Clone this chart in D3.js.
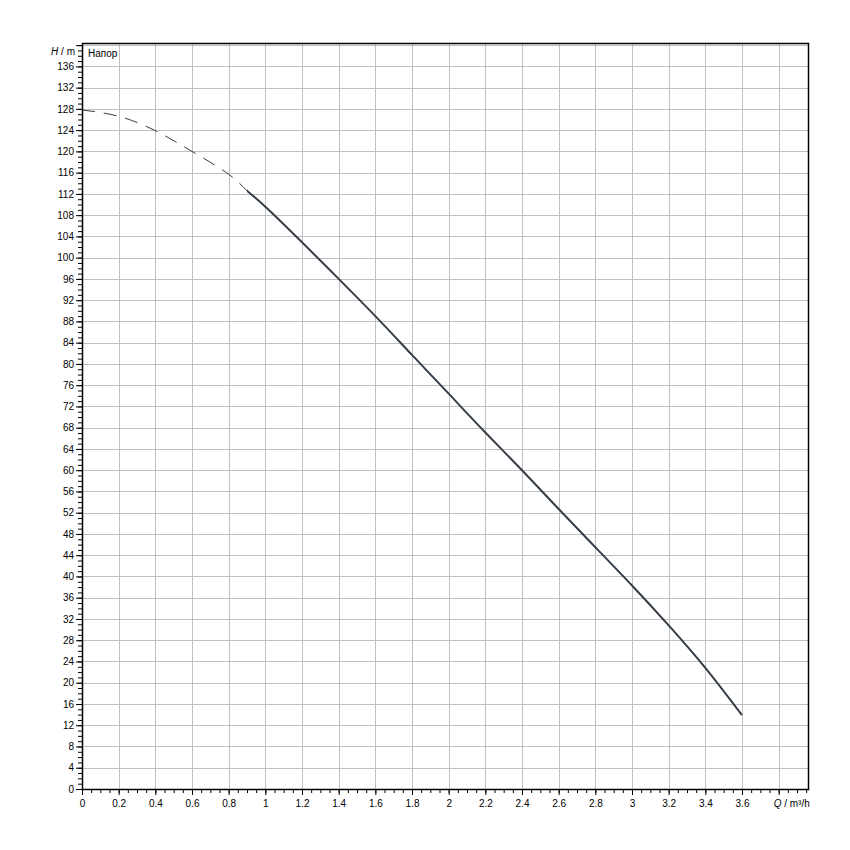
<!DOCTYPE html>
<html>
<head>
<meta charset="utf-8">
<script src="https://cdn.jsdelivr.net/npm/d3@7"></script>
<style>
  body { margin: 0; background: #fff; }
  svg { display: block; font-family: "Liberation Sans", Arial, sans-serif; }
  .tick text { font-size: 10px; fill: #000; }
</style>
</head>
<body>
<div id="chart"></div>
<script>
// Pump head curve, H over Q.
var qValues = [0, 0.2, 0.4, 0.6, 0.8, 0.9, 1.0, 1.2, 1.4, 1.6, 1.8, 2.0, 2.2, 2.4, 2.6, 2.8, 3.0, 3.2, 3.4, 3.6];
var hValues = [127.8, 126.6, 123.9, 120.0, 115.7, 112.6, 109.6, 102.9, 96.0, 89.0, 81.7, 74.4, 67.1, 60.0, 52.7, 45.5, 38.3, 30.8, 22.8, 13.9];
var solidFrom = 0.9; // below this the curve is drawn dashed

var xTicks = d3.range(0, 3.81, 0.2).map(v => +v.toFixed(1));
var yTicks = d3.range(0, 141, 4);
var xMax = 3.96, yMax = 140.4;
var xUnitLabel = "m³/h", yUnitLabel = "m", curveName = "Напор";

var W = 850, H = 850;
var mLeft = 82, mRight = 808, mTop = 43, mBottom = 789;

var svg = d3.select('#chart').append('svg')
    .attr('width', W)
    .attr('height', H);

svg.append('rect').attr('width', W).attr('height', H).attr('fill', '#fff');

var x = d3.scaleLinear().domain([0, xMax]).range([mLeft, mRight]);
var y = d3.scaleLinear().domain([0, yMax]).range([mBottom, mTop]);

// Grid
var grid = svg.append('g').attr('stroke', '#c0c0c0').attr('stroke-width', 1);
grid.selectAll('.gx').data(xTicks.filter(d => d > 0)).enter()
    .append('line')
    .attr('x1', d => Math.round(x(d)) + 0.5).attr('x2', d => Math.round(x(d)) + 0.5)
    .attr('y1', mTop).attr('y2', mBottom);
grid.selectAll('.gy').data(yTicks.filter(d => d > 0)).enter()
    .append('line')
    .attr('y1', d => Math.round(y(d)) + 0.5).attr('y2', d => Math.round(y(d)) + 0.5)
    .attr('x1', mLeft).attr('x2', mRight);

// Minor ticks
var minorX = d3.range(0, xMax + 0.001, 0.05);
var minorY = d3.range(0, yMax, 1);
svg.append('g')
    .attr('transform', 'translate(0,' + mBottom + ')')
    .call(d3.axisBottom(x).tickValues(minorX).tickSize(4).tickFormat(''))
    .call(g => g.select('.domain').remove());
svg.append('g')
    .attr('transform', 'translate(' + mLeft + ',0)')
    .call(d3.axisLeft(y).tickValues(minorY).tickSize(4).tickFormat(''))
    .call(g => g.select('.domain').remove());

// Major ticks + labels
var xAxis = svg.append('g')
    .attr('transform', 'translate(0,' + mBottom + ')')
    .call(d3.axisBottom(x).tickValues(xTicks).tickSize(6).tickPadding(5)
        .tickFormat(d => d >= 3.8 ? '' : d3.format('~g')(d)));
xAxis.select('.domain').remove();
xAxis.selectAll('.tick line').attr('stroke', '#000');

var yAxis = svg.append('g')
    .attr('transform', 'translate(' + mLeft + ',0)')
    .call(d3.axisLeft(y).tickValues(yTicks).tickSize(6).tickPadding(2)
        .tickFormat(d => d >= 140 ? '' : d));
yAxis.select('.domain').remove();
yAxis.selectAll('.tick line').attr('stroke', '#000');

// Axis unit labels
var qLabel = svg.append('text')
    .attr('x', x(3.8) - 5).attr('y', mBottom + 18)
    .attr('text-anchor', 'start')
    .attr('font-size', 10);
qLabel.append('tspan').attr('font-style', 'italic').text('Q');
qLabel.append('tspan').text(' / ' + xUnitLabel);

var hLabel = svg.append('text')
    .attr('x', 75).attr('y', 55)
    .attr('text-anchor', 'end')
    .attr('font-size', 10);
hLabel.append('tspan').attr('font-style', 'italic').text('H');
hLabel.append('tspan').text(' / ' + yUnitLabel);

svg.append('text')
    .attr('x', 88).attr('y', 57)
    .attr('font-size', 10)
    .text(curveName);

// Curve: one smooth path, split into dashed / solid parts by clipping
var pts = qValues.map((q, i) => ({ q: q, h: hValues[i] }));
var line = d3.line()
    .x(d => x(d.q))
    .y(d => y(d.h))
    .curve(d3.curveNatural);

var defs = svg.append('defs');
defs.append('clipPath').attr('id', 'clipDash')
    .append('rect')
    .attr('x', 0).attr('y', 0)
    .attr('width', x(solidFrom)).attr('height', H);
defs.append('clipPath').attr('id', 'clipSolid')
    .append('rect')
    .attr('x', x(solidFrom)).attr('y', 0)
    .attr('width', W - x(solidFrom)).attr('height', H);

svg.append('path')
    .datum(pts)
    .attr('d', line)
    .attr('clip-path', 'url(#clipDash)')
    .attr('fill', 'none')
    .attr('stroke', '#353e48')
    .attr('stroke-width', 1)
    .attr('stroke-dasharray', '13,9');

svg.append('path')
    .datum(pts)
    .attr('d', line)
    .attr('clip-path', 'url(#clipSolid)')
    .attr('fill', 'none')
    .attr('stroke', '#353e48')
    .attr('stroke-width', 2);

// Frame
svg.append('rect')
    .attr('x', mLeft + 0.5).attr('y', mTop + 0.5)
    .attr('width', mRight - mLeft).attr('height', mBottom - mTop)
    .attr('fill', 'none')
    .attr('stroke', '#000')
    .attr('stroke-width', 1.5);
</script>
</body>
</html>
